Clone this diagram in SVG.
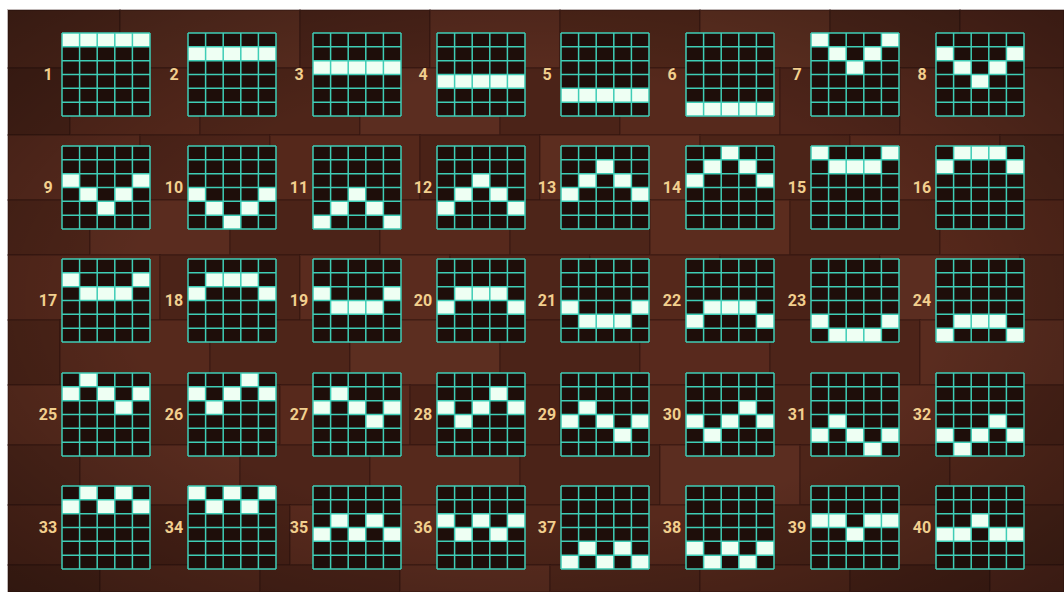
<svg xmlns="http://www.w3.org/2000/svg" width="1064" height="592" viewBox="0 0 1064 592">
<style>
.b{stroke:#2a120c;stroke-width:2;stroke-opacity:0.3}
.bg{fill:#1e0e0a}
.on{fill:#eefff3}
.gl{fill:none;stroke:#3fcdb6;stroke-width:1.5}
.lbl{font-family:Roboto,"Liberation Sans",sans-serif;font-weight:bold;font-size:16px;fill:#f2cf8e;text-anchor:middle}
</style>
<defs>
<path id="lines" class="gl" d="M0 0H88M0 13.83H88M0 27.67H88M0 41.5H88M0 55.33H88M0 69.17H88M0 83H88M0 0V83M17.6 0V83M35.2 0V83M52.8 0V83M70.4 0V83M88 0V83"/>
<radialGradient id="vig" cx="50%" cy="50%" r="70%">
<stop offset="0.55" stop-color="#000" stop-opacity="0"/>
<stop offset="1" stop-color="#000" stop-opacity="0.35"/>
</radialGradient>
</defs>
<g id="background">
<rect x="0" y="0" width="1064" height="592" fill="#ffffff"/>
<rect x="8" y="10" width="1056" height="582" fill="#532719"/>
<g class="b">
<rect x="8" y="10" width="112" height="58" fill="#55291c"/><rect x="120" y="10" width="180" height="58" fill="#5c2e20"/><rect x="300" y="10" width="130" height="58" fill="#4c2419"/><rect x="430" y="10" width="130" height="58" fill="#5a2c1f"/><rect x="560" y="10" width="140" height="58" fill="#4f2619"/><rect x="700" y="10" width="130" height="58" fill="#5f3021"/><rect x="830" y="10" width="130" height="58" fill="#50271b"/><rect x="960" y="10" width="104" height="58" fill="#58291d"/>
<rect x="8" y="68" width="62" height="67" fill="#4a2318"/><rect x="70" y="68" width="130" height="67" fill="#57291c"/><rect x="200" y="68" width="160" height="67" fill="#4e2519"/><rect x="360" y="68" width="140" height="67" fill="#5b2d20"/><rect x="500" y="68" width="120" height="67" fill="#4b2318"/><rect x="620" y="68" width="160" height="67" fill="#56291c"/><rect x="780" y="68" width="120" height="67" fill="#4f251a"/><rect x="900" y="68" width="164" height="67" fill="#5a2b1e"/>
<rect x="8" y="135" width="132" height="65" fill="#5a2b1e"/><rect x="140" y="135" width="130" height="65" fill="#4d2419"/><rect x="270" y="135" width="150" height="65" fill="#55281b"/><rect x="420" y="135" width="120" height="65" fill="#4a2217"/><rect x="540" y="135" width="160" height="65" fill="#5c2d1f"/><rect x="700" y="135" width="150" height="65" fill="#4c2418"/><rect x="850" y="135" width="150" height="65" fill="#57291c"/><rect x="1000" y="135" width="64" height="65" fill="#4f261a"/>
<rect x="8" y="200" width="82" height="55" fill="#4e2519"/><rect x="90" y="200" width="140" height="55" fill="#5a2c1f"/><rect x="230" y="200" width="150" height="55" fill="#4b2318"/><rect x="380" y="200" width="130" height="55" fill="#57291c"/><rect x="510" y="200" width="140" height="55" fill="#4d2519"/><rect x="650" y="200" width="140" height="55" fill="#5b2c1e"/><rect x="790" y="200" width="150" height="55" fill="#4c2418"/><rect x="940" y="200" width="124" height="55" fill="#56281b"/>
<rect x="8" y="255" width="152" height="65" fill="#57291c"/><rect x="160" y="255" width="140" height="65" fill="#4b2318"/><rect x="300" y="255" width="150" height="65" fill="#5a2b1e"/><rect x="450" y="255" width="140" height="65" fill="#4e2519"/><rect x="590" y="255" width="130" height="65" fill="#55281b"/><rect x="720" y="255" width="160" height="65" fill="#4a2217"/><rect x="880" y="255" width="140" height="65" fill="#5b2d20"/><rect x="1020" y="255" width="44" height="65" fill="#4f261a"/>
<rect x="8" y="320" width="52" height="65" fill="#4c2418"/><rect x="60" y="320" width="150" height="65" fill="#56291c"/><rect x="210" y="320" width="140" height="65" fill="#4e2519"/><rect x="350" y="320" width="150" height="65" fill="#5c2e20"/><rect x="500" y="320" width="140" height="65" fill="#4b2318"/><rect x="640" y="320" width="130" height="65" fill="#58291d"/><rect x="770" y="320" width="150" height="65" fill="#4d2419"/><rect x="920" y="320" width="144" height="65" fill="#5a2c1f"/>
<rect x="8" y="385" width="122" height="60" fill="#5b2c1e"/><rect x="130" y="385" width="150" height="60" fill="#4c2418"/><rect x="280" y="385" width="130" height="60" fill="#57291c"/><rect x="410" y="385" width="150" height="60" fill="#4a2217"/><rect x="560" y="385" width="130" height="60" fill="#55281b"/><rect x="690" y="385" width="150" height="60" fill="#4e2519"/><rect x="840" y="385" width="140" height="60" fill="#5a2b1e"/><rect x="980" y="385" width="84" height="60" fill="#4b2318"/>
<rect x="8" y="445" width="72" height="60" fill="#4f261a"/><rect x="80" y="445" width="160" height="60" fill="#5a2c1f"/><rect x="240" y="445" width="130" height="60" fill="#4d2419"/><rect x="370" y="445" width="150" height="60" fill="#56291c"/><rect x="520" y="445" width="140" height="60" fill="#4b2318"/><rect x="660" y="445" width="140" height="60" fill="#5b2d20"/><rect x="800" y="445" width="150" height="60" fill="#4e2519"/><rect x="950" y="445" width="114" height="60" fill="#55281b"/>
<rect x="8" y="505" width="142" height="60" fill="#55281b"/><rect x="150" y="505" width="140" height="60" fill="#4a2217"/><rect x="290" y="505" width="150" height="60" fill="#5a2b1e"/><rect x="440" y="505" width="140" height="60" fill="#4e2519"/><rect x="580" y="505" width="150" height="60" fill="#57291c"/><rect x="730" y="505" width="140" height="60" fill="#4c2418"/><rect x="870" y="505" width="140" height="60" fill="#5b2c1e"/><rect x="1010" y="505" width="54" height="60" fill="#4d2519"/>
<rect x="8" y="565" width="92" height="27" fill="#4c2418"/><rect x="100" y="565" width="160" height="27" fill="#56291c"/><rect x="260" y="565" width="140" height="27" fill="#4b2318"/><rect x="400" y="565" width="150" height="27" fill="#5a2c1f"/><rect x="550" y="565" width="150" height="27" fill="#4e2519"/><rect x="700" y="565" width="150" height="27" fill="#55281b"/><rect x="850" y="565" width="140" height="27" fill="#4a2217"/><rect x="990" y="565" width="74" height="27" fill="#58291d"/>
</g>
<rect x="8" y="10" width="1056" height="582" fill="url(#vig)"/>
</g>
<g id="paylines">
<g id="line-1" transform="translate(62,33)"><rect class="bg" width="88" height="83"/><path class="on" d="M0 0h88v13.83h-88z"/><use href="#lines"/><text class="lbl" x="-14" y="47">1</text></g>
<g id="line-2" transform="translate(188,33)"><rect class="bg" width="88" height="83"/><path class="on" d="M0 13.83h88v13.83h-88z"/><use href="#lines"/><text class="lbl" x="-14" y="47">2</text></g>
<g id="line-3" transform="translate(313,33)"><rect class="bg" width="88" height="83"/><path class="on" d="M0 27.67h88v13.83h-88z"/><use href="#lines"/><text class="lbl" x="-14" y="47">3</text></g>
<g id="line-4" transform="translate(437,33)"><rect class="bg" width="88" height="83"/><path class="on" d="M0 41.5h88v13.83h-88z"/><use href="#lines"/><text class="lbl" x="-14" y="47">4</text></g>
<g id="line-5" transform="translate(561,33)"><rect class="bg" width="88" height="83"/><path class="on" d="M0 55.33h88v13.83h-88z"/><use href="#lines"/><text class="lbl" x="-14" y="47">5</text></g>
<g id="line-6" transform="translate(686,33)"><rect class="bg" width="88" height="83"/><path class="on" d="M0 69.17h88v13.83h-88z"/><use href="#lines"/><text class="lbl" x="-14" y="47">6</text></g>
<g id="line-7" transform="translate(811,33)"><rect class="bg" width="88" height="83"/><path class="on" d="M0 0h17.6v13.83h-17.6zM17.6 13.83h17.6v13.83h-17.6zM35.2 27.67h17.6v13.83h-17.6zM52.8 13.83h17.6v13.83h-17.6zM70.4 0h17.6v13.83h-17.6z"/><use href="#lines"/><text class="lbl" x="-14" y="47">7</text></g>
<g id="line-8" transform="translate(936,33)"><rect class="bg" width="88" height="83"/><path class="on" d="M0 13.83h17.6v13.83h-17.6zM17.6 27.67h17.6v13.83h-17.6zM35.2 41.5h17.6v13.83h-17.6zM52.8 27.67h17.6v13.83h-17.6zM70.4 13.83h17.6v13.83h-17.6z"/><use href="#lines"/><text class="lbl" x="-14" y="47">8</text></g>

<g id="line-9" transform="translate(62,146)"><rect class="bg" width="88" height="83"/><path class="on" d="M0 27.67h17.6v13.83h-17.6zM17.6 41.5h17.6v13.83h-17.6zM35.2 55.33h17.6v13.83h-17.6zM52.8 41.5h17.6v13.83h-17.6zM70.4 27.67h17.6v13.83h-17.6z"/><use href="#lines"/><text class="lbl" x="-14" y="47">9</text></g>
<g id="line-10" transform="translate(188,146)"><rect class="bg" width="88" height="83"/><path class="on" d="M0 41.5h17.6v13.83h-17.6zM17.6 55.33h17.6v13.83h-17.6zM35.2 69.17h17.6v13.83h-17.6zM52.8 55.33h17.6v13.83h-17.6zM70.4 41.5h17.6v13.83h-17.6z"/><use href="#lines"/><text class="lbl" x="-14" y="47">10</text></g>
<g id="line-11" transform="translate(313,146)"><rect class="bg" width="88" height="83"/><path class="on" d="M0 69.17h17.6v13.83h-17.6zM17.6 55.33h17.6v13.83h-17.6zM35.2 41.5h17.6v13.83h-17.6zM52.8 55.33h17.6v13.83h-17.6zM70.4 69.17h17.6v13.83h-17.6z"/><use href="#lines"/><text class="lbl" x="-14" y="47">11</text></g>
<g id="line-12" transform="translate(437,146)"><rect class="bg" width="88" height="83"/><path class="on" d="M0 55.33h17.6v13.83h-17.6zM17.6 41.5h17.6v13.83h-17.6zM35.2 27.67h17.6v13.83h-17.6zM52.8 41.5h17.6v13.83h-17.6zM70.4 55.33h17.6v13.83h-17.6z"/><use href="#lines"/><text class="lbl" x="-14" y="47">12</text></g>
<g id="line-13" transform="translate(561,146)"><rect class="bg" width="88" height="83"/><path class="on" d="M0 41.5h17.6v13.83h-17.6zM17.6 27.67h17.6v13.83h-17.6zM35.2 13.83h17.6v13.83h-17.6zM52.8 27.67h17.6v13.83h-17.6zM70.4 41.5h17.6v13.83h-17.6z"/><use href="#lines"/><text class="lbl" x="-14" y="47">13</text></g>
<g id="line-14" transform="translate(686,146)"><rect class="bg" width="88" height="83"/><path class="on" d="M0 27.67h17.6v13.83h-17.6zM17.6 13.83h17.6v13.83h-17.6zM35.2 0h17.6v13.83h-17.6zM52.8 13.83h17.6v13.83h-17.6zM70.4 27.67h17.6v13.83h-17.6z"/><use href="#lines"/><text class="lbl" x="-14" y="47">14</text></g>
<g id="line-15" transform="translate(811,146)"><rect class="bg" width="88" height="83"/><path class="on" d="M0 0h17.6v13.83h-17.6zM17.6 13.83h52.8v13.83h-52.8zM70.4 0h17.6v13.83h-17.6z"/><use href="#lines"/><text class="lbl" x="-14" y="47">15</text></g>
<g id="line-16" transform="translate(936,146)"><rect class="bg" width="88" height="83"/><path class="on" d="M0 13.83h17.6v13.83h-17.6zM17.6 0h52.8v13.83h-52.8zM70.4 13.83h17.6v13.83h-17.6z"/><use href="#lines"/><text class="lbl" x="-14" y="47">16</text></g>

<g id="line-17" transform="translate(62,259)"><rect class="bg" width="88" height="83"/><path class="on" d="M0 13.83h17.6v13.83h-17.6zM17.6 27.67h52.8v13.83h-52.8zM70.4 13.83h17.6v13.83h-17.6z"/><use href="#lines"/><text class="lbl" x="-14" y="47">17</text></g>
<g id="line-18" transform="translate(188,259)"><rect class="bg" width="88" height="83"/><path class="on" d="M0 27.67h17.6v13.83h-17.6zM17.6 13.83h52.8v13.83h-52.8zM70.4 27.67h17.6v13.83h-17.6z"/><use href="#lines"/><text class="lbl" x="-14" y="47">18</text></g>
<g id="line-19" transform="translate(313,259)"><rect class="bg" width="88" height="83"/><path class="on" d="M0 27.67h17.6v13.83h-17.6zM17.6 41.5h52.8v13.83h-52.8zM70.4 27.67h17.6v13.83h-17.6z"/><use href="#lines"/><text class="lbl" x="-14" y="47">19</text></g>
<g id="line-20" transform="translate(437,259)"><rect class="bg" width="88" height="83"/><path class="on" d="M0 41.5h17.6v13.83h-17.6zM17.6 27.67h52.8v13.83h-52.8zM70.4 41.5h17.6v13.83h-17.6z"/><use href="#lines"/><text class="lbl" x="-14" y="47">20</text></g>
<g id="line-21" transform="translate(561,259)"><rect class="bg" width="88" height="83"/><path class="on" d="M0 41.5h17.6v13.83h-17.6zM17.6 55.33h52.8v13.83h-52.8zM70.4 41.5h17.6v13.83h-17.6z"/><use href="#lines"/><text class="lbl" x="-14" y="47">21</text></g>
<g id="line-22" transform="translate(686,259)"><rect class="bg" width="88" height="83"/><path class="on" d="M0 55.33h17.6v13.83h-17.6zM17.6 41.5h52.8v13.83h-52.8zM70.4 55.33h17.6v13.83h-17.6z"/><use href="#lines"/><text class="lbl" x="-14" y="47">22</text></g>
<g id="line-23" transform="translate(811,259)"><rect class="bg" width="88" height="83"/><path class="on" d="M0 55.33h17.6v13.83h-17.6zM17.6 69.17h52.8v13.83h-52.8zM70.4 55.33h17.6v13.83h-17.6z"/><use href="#lines"/><text class="lbl" x="-14" y="47">23</text></g>
<g id="line-24" transform="translate(936,259)"><rect class="bg" width="88" height="83"/><path class="on" d="M0 69.17h17.6v13.83h-17.6zM17.6 55.33h52.8v13.83h-52.8zM70.4 69.17h17.6v13.83h-17.6z"/><use href="#lines"/><text class="lbl" x="-14" y="47">24</text></g>

<g id="line-25" transform="translate(62,373)"><rect class="bg" width="88" height="83"/><path class="on" d="M0 13.83h17.6v13.83h-17.6zM17.6 0h17.6v13.83h-17.6zM35.2 13.83h17.6v13.83h-17.6zM52.8 27.67h17.6v13.83h-17.6zM70.4 13.83h17.6v13.83h-17.6z"/><use href="#lines"/><text class="lbl" x="-14" y="47">25</text></g>
<g id="line-26" transform="translate(188,373)"><rect class="bg" width="88" height="83"/><path class="on" d="M0 13.83h17.6v13.83h-17.6zM17.6 27.67h17.6v13.83h-17.6zM35.2 13.83h17.6v13.83h-17.6zM52.8 0h17.6v13.83h-17.6zM70.4 13.83h17.6v13.83h-17.6z"/><use href="#lines"/><text class="lbl" x="-14" y="47">26</text></g>
<g id="line-27" transform="translate(313,373)"><rect class="bg" width="88" height="83"/><path class="on" d="M0 27.67h17.6v13.83h-17.6zM17.6 13.83h17.6v13.83h-17.6zM35.2 27.67h17.6v13.83h-17.6zM52.8 41.5h17.6v13.83h-17.6zM70.4 27.67h17.6v13.83h-17.6z"/><use href="#lines"/><text class="lbl" x="-14" y="47">27</text></g>
<g id="line-28" transform="translate(437,373)"><rect class="bg" width="88" height="83"/><path class="on" d="M0 27.67h17.6v13.83h-17.6zM17.6 41.5h17.6v13.83h-17.6zM35.2 27.67h17.6v13.83h-17.6zM52.8 13.83h17.6v13.83h-17.6zM70.4 27.67h17.6v13.83h-17.6z"/><use href="#lines"/><text class="lbl" x="-14" y="47">28</text></g>
<g id="line-29" transform="translate(561,373)"><rect class="bg" width="88" height="83"/><path class="on" d="M0 41.5h17.6v13.83h-17.6zM17.6 27.67h17.6v13.83h-17.6zM35.2 41.5h17.6v13.83h-17.6zM52.8 55.33h17.6v13.83h-17.6zM70.4 41.5h17.6v13.83h-17.6z"/><use href="#lines"/><text class="lbl" x="-14" y="47">29</text></g>
<g id="line-30" transform="translate(686,373)"><rect class="bg" width="88" height="83"/><path class="on" d="M0 41.5h17.6v13.83h-17.6zM17.6 55.33h17.6v13.83h-17.6zM35.2 41.5h17.6v13.83h-17.6zM52.8 27.67h17.6v13.83h-17.6zM70.4 41.5h17.6v13.83h-17.6z"/><use href="#lines"/><text class="lbl" x="-14" y="47">30</text></g>
<g id="line-31" transform="translate(811,373)"><rect class="bg" width="88" height="83"/><path class="on" d="M0 55.33h17.6v13.83h-17.6zM17.6 41.5h17.6v13.83h-17.6zM35.2 55.33h17.6v13.83h-17.6zM52.8 69.17h17.6v13.83h-17.6zM70.4 55.33h17.6v13.83h-17.6z"/><use href="#lines"/><text class="lbl" x="-14" y="47">31</text></g>
<g id="line-32" transform="translate(936,373)"><rect class="bg" width="88" height="83"/><path class="on" d="M0 55.33h17.6v13.83h-17.6zM17.6 69.17h17.6v13.83h-17.6zM35.2 55.33h17.6v13.83h-17.6zM52.8 41.5h17.6v13.83h-17.6zM70.4 55.33h17.6v13.83h-17.6z"/><use href="#lines"/><text class="lbl" x="-14" y="47">32</text></g>

<g id="line-33" transform="translate(62,486)"><rect class="bg" width="88" height="83"/><path class="on" d="M0 13.83h17.6v13.83h-17.6zM17.6 0h17.6v13.83h-17.6zM35.2 13.83h17.6v13.83h-17.6zM52.8 0h17.6v13.83h-17.6zM70.4 13.83h17.6v13.83h-17.6z"/><use href="#lines"/><text class="lbl" x="-14" y="47">33</text></g>
<g id="line-34" transform="translate(188,486)"><rect class="bg" width="88" height="83"/><path class="on" d="M0 0h17.6v13.83h-17.6zM17.6 13.83h17.6v13.83h-17.6zM35.2 0h17.6v13.83h-17.6zM52.8 13.83h17.6v13.83h-17.6zM70.4 0h17.6v13.83h-17.6z"/><use href="#lines"/><text class="lbl" x="-14" y="47">34</text></g>
<g id="line-35" transform="translate(313,486)"><rect class="bg" width="88" height="83"/><path class="on" d="M0 41.5h17.6v13.83h-17.6zM17.6 27.67h17.6v13.83h-17.6zM35.2 41.5h17.6v13.83h-17.6zM52.8 27.67h17.6v13.83h-17.6zM70.4 41.5h17.6v13.83h-17.6z"/><use href="#lines"/><text class="lbl" x="-14" y="47">35</text></g>
<g id="line-36" transform="translate(437,486)"><rect class="bg" width="88" height="83"/><path class="on" d="M0 27.67h17.6v13.83h-17.6zM17.6 41.5h17.6v13.83h-17.6zM35.2 27.67h17.6v13.83h-17.6zM52.8 41.5h17.6v13.83h-17.6zM70.4 27.67h17.6v13.83h-17.6z"/><use href="#lines"/><text class="lbl" x="-14" y="47">36</text></g>
<g id="line-37" transform="translate(561,486)"><rect class="bg" width="88" height="83"/><path class="on" d="M0 69.17h17.6v13.83h-17.6zM17.6 55.33h17.6v13.83h-17.6zM35.2 69.17h17.6v13.83h-17.6zM52.8 55.33h17.6v13.83h-17.6zM70.4 69.17h17.6v13.83h-17.6z"/><use href="#lines"/><text class="lbl" x="-14" y="47">37</text></g>
<g id="line-38" transform="translate(686,486)"><rect class="bg" width="88" height="83"/><path class="on" d="M0 55.33h17.6v13.83h-17.6zM17.6 69.17h17.6v13.83h-17.6zM35.2 55.33h17.6v13.83h-17.6zM52.8 69.17h17.6v13.83h-17.6zM70.4 55.33h17.6v13.83h-17.6z"/><use href="#lines"/><text class="lbl" x="-14" y="47">38</text></g>
<g id="line-39" transform="translate(811,486)"><rect class="bg" width="88" height="83"/><path class="on" d="M0 27.67h35.2v13.83h-35.2zM35.2 41.5h17.6v13.83h-17.6zM52.8 27.67h35.2v13.83h-35.2z"/><use href="#lines"/><text class="lbl" x="-14" y="47">39</text></g>
<g id="line-40" transform="translate(936,486)"><rect class="bg" width="88" height="83"/><path class="on" d="M0 41.5h35.2v13.83h-35.2zM35.2 27.67h17.6v13.83h-17.6zM52.8 41.5h35.2v13.83h-35.2z"/><use href="#lines"/><text class="lbl" x="-14" y="47">40</text></g>
</g>
</svg>
